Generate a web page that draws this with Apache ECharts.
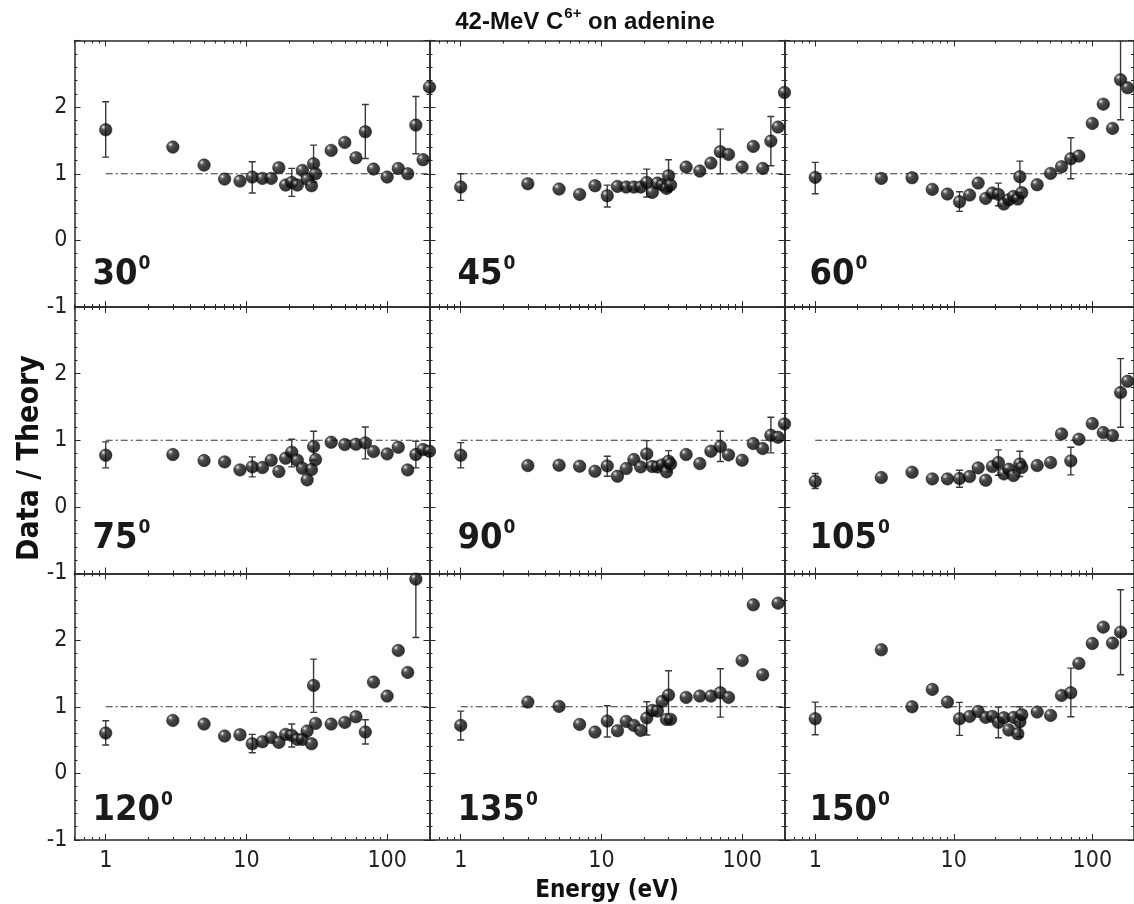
<!DOCTYPE html>
<html><head><meta charset="utf-8">
<script src="https://cdn.jsdelivr.net/npm/echarts@6/dist/echarts.min.js"></script>
<style>html,body{margin:0;padding:0;background:#fff}#c{width:1134px;height:904px}</style>
</head><body><div id="c"></div>
<script>
// ---- data ----
const energy = [1,3,5,7,9,11,13,15,17,19,21,23,25,27,29,30,31,40,50,60,70,80,100,120,140,160,180,200];
const angles = ['30','45','60','75','90','105','120','135','150'];
const v30  = [1.66,1.40,1.13,0.92,0.89,0.95,0.93,0.93,1.09,0.83,0.87,0.83,1.05,0.92,0.82,1.15,1.00,1.35,1.47,1.24,1.63,1.07,0.95,1.08,1.00,1.73,1.21,2.30];
const v45  = [0.80,0.85,0.77,0.69,0.82,0.67,0.81,0.80,0.80,0.80,0.87,0.72,0.86,0.83,0.78,0.97,0.83,1.10,1.04,1.16,1.33,1.29,1.10,1.41,1.08,1.49,1.70,2.22];
const v60  = [0.945,0.93,0.94,0.765,0.695,0.58,0.68,0.86,0.63,0.71,0.69,0.545,0.61,0.66,0.62,0.955,0.715,0.835,1.005,1.105,1.225,1.265,1.755,2.045,1.68,2.41,2.29,null];
const v75  = [0.775,0.785,0.695,0.675,0.555,0.60,0.59,0.70,0.53,0.73,0.82,0.70,0.58,0.405,0.56,0.905,0.71,0.97,0.935,0.94,0.96,0.83,0.795,0.895,0.555,0.785,0.86,0.835];
const v90  = [0.775,0.62,0.625,0.61,0.535,0.615,0.46,0.575,0.71,0.60,0.795,0.605,0.60,0.63,0.525,0.685,0.645,0.785,0.65,0.835,0.905,0.78,0.70,0.95,0.875,1.075,1.045,1.245];
const v105 = [0.385,0.44,0.52,0.42,0.42,0.425,0.455,0.585,0.40,0.605,0.665,0.495,0.565,0.47,null,0.645,0.59,0.62,0.665,1.095,0.69,1.015,1.25,1.115,1.07,1.715,1.885,null];
const v120 = [0.605,0.795,0.74,0.56,0.58,0.445,0.475,0.54,0.465,0.585,0.57,0.51,0.51,0.635,0.445,1.32,0.75,0.74,0.765,0.85,0.62,1.37,1.16,1.845,1.515,2.915,null,null];
const v135 = [0.72,1.07,1.005,0.735,0.62,0.785,0.64,0.78,0.72,0.645,0.83,0.945,0.935,1.08,0.81,1.175,0.81,1.14,1.16,1.16,1.21,1.14,1.695,2.53,1.48,null,2.555,null];
const v150 = [0.82,1.855,1.00,1.26,1.07,0.82,0.855,0.93,0.84,0.855,0.765,0.835,0.65,0.84,0.595,0.775,0.88,0.92,0.87,1.17,1.21,1.65,1.95,2.195,1.955,2.12,null,null];
// error bars: [energy, low, high]
const e30  = [[1,1.25,2.08],[11,0.71,1.18],[21,0.66,1.08],[30,0.87,1.43],[70,1.23,2.04],[160,1.30,2.16]];
const e45  = [[1,0.60,1.00],[11,0.50,0.83],[21,0.65,1.07],[30,0.73,1.21],[70,1.00,1.67],[160,1.12,1.86]];
const e60  = [[1,0.70,1.17],[11,0.435,0.73],[21,0.52,0.86],[30,0.72,1.19],[70,0.925,1.54],[160,1.81,3.0]];
const e75  = [[1,0.585,0.975],[11,0.45,0.75],[21,0.60,1.015],[30,0.70,1.135],[70,0.72,1.20],[160,0.585,0.985]];
const e90  = [[1,0.585,0.965],[11,0.46,0.76],[21,0.60,0.995],[30,0.525,0.845],[70,0.68,1.135],[160,0.81,1.345]];
const e105 = [[1,0.275,0.50],[11,0.295,0.55],[21,0.475,0.855],[30,0.455,0.835],[70,0.48,0.895],[160,1.195,2.225]];
const e120 = [[1,0.425,0.79],[11,0.31,0.585],[21,0.395,0.74],[30,0.915,1.715],[70,0.44,0.805],[160,2.04,3.0]];
const e135 = [[1,0.50,0.935],[11,0.545,1.015],[21,0.575,1.075],[30,0.81,1.54],[70,0.845,1.57]];
const e150 = [[1,0.58,1.07],[11,0.57,1.065],[21,0.535,0.995],[30,0.55,1.00],[70,0.85,1.58],[160,1.48,2.755]];
const refLine = [[1,1],[200,1]];
const xMajor = [1,10,100];
const xMinor = [0.6,0.7,0.8,0.9,2,3,4,5,6,7,8,9,20,30,40,50,60,70,80,90,200];
const yLabels = [-1,0,1,2];

const values = [v30,v45,v60,v75,v90,v105,v120,v135,v150];
const errs = [e30,e45,e60,e75,e90,e105,e120,e135,e150];

// ---- layout ----
const colLeft = [74.5, 429.5, 784.5];
const colWidth = [355, 355, 357];
const rowTop = [40.5, 307, 573.5];
const rowH = 266.5;
const labelOffX = [18, 28, 25];
const labelOffY = [14, 17, 11];

const axisColor = '#2a2a2a';
const condensed = '"DejaVu Sans Condensed", "DejaVu Sans", sans-serif';

const grid = [], xAxis = [], yAxis = [], series = [], graphic = [];

const sphere = {
  type: 'radial', x: 0.32, y: 0.3, r: 0.7,
  colorStops: [
    {offset: 0, color: '#ffffff'},
    {offset: 0.1, color: '#9a9a9a'},
    {offset: 0.28, color: '#2c2c2c'},
    {offset: 0.55, color: '#101010'},
    {offset: 1, color: '#000000'}
  ]
};

for (let i = 0; i < 9; i++) {
  const r = Math.floor(i / 3), c = i % 3;
  grid.push({left: colLeft[c], top: rowTop[r], width: colWidth[c], height: rowH, containLabel: false});
  const xBase = {
    gridIndex: i, type: 'log', logBase: 10, min: 0.6, max: 200,
    splitLine: {show: false}, minorSplitLine: {show: false}
  };
  xAxis.push(Object.assign({}, xBase, {
    position: 'bottom',
    axisLine: {show: true, onZero: false, lineStyle: {color: axisColor, width: 1.5}},
    axisTick: {show: true, inside: true, length: 6, customValues: xMajor, lineStyle: {color: axisColor, width: 1}},
    axisLabel: {show: r === 2, customValues: xMajor, formatter: v => String(Math.round(v)),
      fontFamily: condensed, fontSize: 23, color: '#222', margin: 10}
  }));
  xAxis.push(Object.assign({}, xBase, {
    position: 'bottom',
    axisLine: {show: false, onZero: false},
    axisTick: {show: true, inside: true, length: 3, customValues: xMinor, lineStyle: {color: axisColor, width: 1}},
    axisLabel: {show: false}
  }));
  xAxis.push(Object.assign({}, xBase, {
    position: 'top',
    axisLine: {show: true, onZero: false, lineStyle: {color: axisColor, width: 1.5}},
    axisTick: {show: true, inside: true, length: 6, customValues: xMajor, lineStyle: {color: axisColor, width: 1}},
    axisLabel: {show: false}
  }));
  xAxis.push(Object.assign({}, xBase, {
    position: 'top',
    axisLine: {show: false, onZero: false},
    axisTick: {show: true, inside: true, length: 3, customValues: xMinor, lineStyle: {color: axisColor, width: 1}},
    axisLabel: {show: false}
  }));
  const yBase = {
    gridIndex: i, type: 'value', min: -1, max: 3, interval: 1,
    splitLine: {show: false}, minorSplitLine: {show: false},
    axisLine: {show: true, onZero: false, lineStyle: {color: axisColor, width: 1.5}},
    axisTick: {show: true, inside: true, length: 6, lineStyle: {color: axisColor, width: 1}},
    minorTick: {show: true, splitNumber: 5, length: 3, lineStyle: {color: axisColor, width: 1}}
  };
  yAxis.push(Object.assign({}, yBase, {
    position: 'left',
    axisLabel: {show: c === 0, customValues: yLabels, formatter: v => String(v),
      fontFamily: condensed, fontSize: 23, color: '#222', margin: 7}
  }));
  yAxis.push(Object.assign({}, yBase, {position: 'right', axisLabel: {show: false}}));

  const xi = i * 4, yi = i * 2;
  series.push({
    type: 'line', xAxisIndex: xi, yAxisIndex: yi, data: refLine,
    showSymbol: false, symbol: 'none', silent: true, z: 1,
    lineStyle: {color: '#333', width: 1, type: [7, 3, 2, 3]}
  });
  series.push({
    type: 'custom', xAxisIndex: xi, yAxisIndex: yi, data: errs[i], z: 3, clip: true,
    encode: {x: 0, y: [1, 2]},
    renderItem: function (params, api) {
      const x = api.value(0), lo = api.value(1), hi = api.value(2);
      const p1 = api.coord([x, lo]), p2 = api.coord([x, hi]);
      const st = {stroke: '#3a3a3a', lineWidth: 1.4};
      const w = 3.5;
      return {type: 'group', children: [
        {type: 'line', shape: {x1: p1[0], y1: p1[1], x2: p2[0], y2: p2[1]}, style: st},
        {type: 'line', shape: {x1: p1[0] - w, y1: p1[1], x2: p1[0] + w, y2: p1[1]}, style: st},
        {type: 'line', shape: {x1: p2[0] - w, y1: p2[1], x2: p2[0] + w, y2: p2[1]}, style: st}
      ]};
    }
  });
  const pts = [];
  energy.forEach((e, k) => { if (values[i][k] != null) pts.push([e, values[i][k]]); });
  series.push({
    type: 'scatter', xAxisIndex: xi, yAxisIndex: yi, data: pts, z: 5,
    symbol: 'circle', symbolSize: 12.5,
    itemStyle: {color: sphere, borderColor: '#000', borderWidth: 0.6}
  });

  graphic.push({
    type: 'text', left: colLeft[c] + labelOffX[c], bottom: 904 - (rowTop[r] + rowH - labelOffY[r]), z: 10,
    style: {
      text: '{a|' + angles[i] + '}{s|0}',
      rich: {
        a: {fontFamily: condensed, fontWeight: 'bold', fontSize: 36, fill: '#1a1a1a', lineHeight: 38, verticalAlign: 'bottom'},
        s: {fontFamily: condensed, fontWeight: 'bold', fontSize: 19, fill: '#1a1a1a', lineHeight: 38, verticalAlign: 'top', padding: [0, 0, 14, 1]}
      }
    }
  });
}

graphic.push({
  type: 'text', x: 585, y: 20, z: 10,
  style: {
    text: '{a|42-MeV C}{s|6+}{a| on adenine}',
    align: 'center', verticalAlign: 'middle',
    rich: {
      a: {fontFamily: '"Liberation Sans Narrow", "Liberation Sans", sans-serif', fontWeight: 'bold', fontSize: 24, fill: '#111', lineHeight: 28, verticalAlign: 'bottom'},
      s: {fontFamily: '"Liberation Sans Narrow", "Liberation Sans", sans-serif', fontWeight: 'bold', fontSize: 15, fill: '#111', lineHeight: 28, verticalAlign: 'top', padding: [0, 0, 9, 1]}
    }
  }
});
graphic.push({
  type: 'text', x: 30, y: 458, rotation: Math.PI / 2, z: 10,
  style: {text: 'Data / Theory', fontFamily: condensed, fontWeight: 'bold', fontSize: 30, fill: '#111', align: 'center', verticalAlign: 'middle'}
});
graphic.push({
  type: 'text', x: 607, y: 891, z: 10,
  style: {text: 'Energy (eV)', fontFamily: condensed, fontWeight: 'bold', fontSize: 24, fill: '#111', align: 'center', verticalAlign: 'middle'}
});

const chart = echarts.init(document.getElementById('c'), null, {renderer: 'canvas'});
chart.setOption({
  backgroundColor: '#fff',
  animation: false,
  grid, xAxis, yAxis, series, graphic
});
</script>
</body></html>
